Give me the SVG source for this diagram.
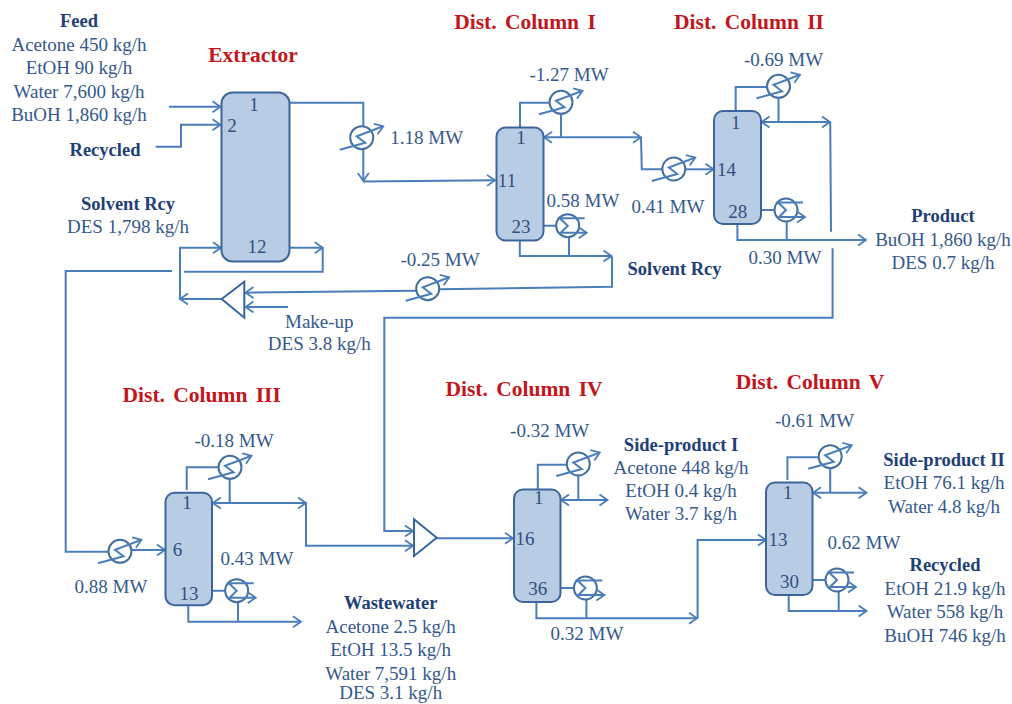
<svg xmlns="http://www.w3.org/2000/svg" width="1012" height="704" viewBox="0 0 1012 704">
<style>
text{font-family:"Liberation Serif","Times New Roman",serif;text-anchor:middle}
.t{font-size:19px;fill:#34588c}
.b{font-size:18.5px;font-weight:bold;fill:#1f3f77}
.r{font-size:21.5px;font-weight:bold;fill:#c3161c;word-spacing:3px}
.n{font-size:19px;fill:#2f5080}
.col{fill:#b8cce4;stroke:#3b659b;stroke-width:2}
.c{fill:none;stroke:#4a7ebb;stroke-width:2}
.a{marker-end:url(#ah)}
.d{marker-start:url(#ah);marker-end:url(#ah)}
.mx{fill:#fff;stroke:#37659c;stroke-width:2}
.hx{fill:none;stroke:#44709f;stroke-width:2}
.hl{fill:none;stroke:#4a7ebb;stroke-width:2}
</style>
<defs>
<marker id="ah" markerUnits="userSpaceOnUse" markerWidth="14" markerHeight="14" refX="10" refY="7" orient="auto-start-reverse">
<path d="M2,1.5 L10,7 L2,12.5" fill="none" stroke="#4a7ebb" stroke-width="1.8"/>
</marker>
<g id="cond">
<circle r="11.5" class="hx"/>
<path d="M-22,12 L3.5,5 L-5,-1.5 L21.5,-11.5" class="hl" marker-end="url(#ah)"/>
</g>
<g id="reb">
<circle r="11.5" class="hx"/>
<path d="M17,-7.5 H-8 L0,0 L-7,7 H19" class="hl" marker-end="url(#ah)"/>
</g>
</defs>
<rect width="1012" height="704" fill="#fff"/>
<g id="connectors" class="c">
<path class="a" d="M169,106.7H220.5"/>
<path class="a" d="M155.7,146.7H181V124.7H220.5"/>
<path d="M290,102.7H363.3V126"/>
<path class="a" d="M363.3,149V181"/>
<path class="a" d="M363.3,181.5L495,180.3"/>
<path class="a" d="M290,247.7H322.7"/>
<path d="M322.7,247.7V271.7H184"/>
<path d="M172,271H65.7V551.7H108"/>
<path class="a" d="M131.7,550H165"/>
<path class="a" d="M221.7,299H180"/>
<path class="a" d="M180,299V247.7H221"/>
<path class="a" d="M416,290.7L245.5,292.7"/>
<path class="a" d="M288,307H245.5"/>
<path d="M440,289.3L612,286.7V256.7"/>
<path class="a" d="M519.8,240V256H611.5"/>
<path d="M543.6,225.7H556.5M569,237V256"/>
<path d="M520,127V102.7H549.7M561,114V137.3"/>
<path class="d" d="M544,137.3H641"/>
<path d="M641,137.3L641.8,169.3H662"/>
<path class="a" d="M686,169.3H713.5"/>
<path d="M735.7,110V87H767M778.5,97.7V122"/>
<path class="d" d="M761.5,122H830"/>
<path d="M830.2,122L831,231.7"/>
<path class="a" d="M832.6,248.3V317.7H384.3V531H413"/>
<path d="M761,210H774.5M786.7,221.7V240"/>
<path class="a" d="M737.4,224V240H866"/>
<path d="M186.7,490V467.3H218.3M229.7,479V503"/>
<path class="d" d="M212.8,503H306"/>
<path class="a" d="M306,503V545.7H413"/>
<path class="a" d="M436.7,538.3H513"/>
<path d="M212.3,590.7H225M238,602.7V621.7"/>
<path class="a" d="M188.3,605V621.7H301"/>
<path d="M537.8,489V464.7H566.7M578.3,476V500"/>
<path class="d" d="M561,500H607.5"/>
<path d="M560.6,588H573.5M586.4,600V618.3"/>
<path class="a" d="M536.4,601.7V618.3H697"/>
<path class="a" d="M697.6,618.3V540H766"/>
<path d="M787.4,480V457.3H819M830.2,468V492.7"/>
<path class="d" d="M813,492.7H866.6"/>
<path d="M812.5,580H825.8M838.7,591.7V611"/>
<path class="a" d="M788.7,595V611H866.6"/>
</g>
<g id="extractor"><rect class="col" x="221.5" y="92.5" width="68" height="169" rx="11"/><text class="n" x="254" y="111">1</text><text class="n" x="232" y="132">2</text><text class="n" x="257" y="253">12</text></g>
<g id="column-1"><rect class="col" x="496.5" y="127.5" width="47" height="113" rx="9"/><text class="n" x="521" y="144">1</text><text class="n" x="507" y="186.7">11</text><text class="n" x="521" y="232.7">23</text></g>
<g id="column-2"><rect class="col" x="714" y="111" width="47" height="113" rx="9"/><text class="n" x="735.7" y="129">1</text><text class="n" x="726.5" y="175.7">14</text><text class="n" x="737.7" y="218">28</text></g>
<g id="column-3"><rect class="col" x="165.5" y="492.7" width="46.5" height="112.5" rx="9"/><text class="n" x="187" y="509">1</text><text class="n" x="177.5" y="556">6</text><text class="n" x="189" y="599.7">13</text></g>
<g id="column-4"><rect class="col" x="514" y="489.5" width="46.5" height="112.5" rx="9"/><text class="n" x="538.8" y="504">1</text><text class="n" x="525" y="544.7">16</text><text class="n" x="537.8" y="595">36</text></g>
<g id="column-5"><rect class="col" x="766" y="482.5" width="46.5" height="112.5" rx="9"/><text class="n" x="787.7" y="499">1</text><text class="n" x="778" y="546.3">13</text><text class="n" x="789.4" y="588.3">30</text></g>
<g id="mixer-1"><polygon class="mx" points="221.7,299 244.3,281.7 244.3,317.7"/></g>
<g id="mixer-2"><polygon class="mx" points="414,519.3 436.7,537.7 414,556"/></g>
<g id="hx-extractor"><use href="#cond" x="361.7" y="137.7"/><text class="t" x="426.7" y="143.7">1.18 MW</text></g>
<g id="hx-solvent"><use href="#cond" x="427.7" y="288.7"/><text class="t" x="440" y="265.7">-0.25 MW</text></g>
<g id="hx-c1-cond"><use href="#cond" x="561" y="102.3"/><text class="t" x="569" y="81.3">-1.27 MW</text></g>
<g id="hx-c1-reb"><use href="#reb" x="567.7" y="225.7"/><text class="t" x="583" y="206.7">0.58 MW</text></g>
<g id="hx-c2-feed"><use href="#cond" x="673.8" y="169"/><text class="t" x="668" y="213.3">0.41 MW</text></g>
<g id="hx-c2-cond"><use href="#cond" x="778.5" y="86.3"/><text class="t" x="783.6" y="65.7">-0.69 MW</text></g>
<g id="hx-c2-reb"><use href="#reb" x="786" y="210"/><text class="t" x="785" y="264.3">0.30 MW</text></g>
<g id="hx-c3-feed"><use href="#cond" x="120" y="551.3"/><text class="t" x="111" y="593.3">0.88 MW</text></g>
<g id="hx-c3-cond"><use href="#cond" x="230" y="467.3"/><text class="t" x="234" y="446.7">-0.18 MW</text></g>
<g id="hx-c3-reb"><use href="#reb" x="236.7" y="590.7"/><text class="t" x="257" y="564.7">0.43 MW</text></g>
<g id="hx-c4-cond"><use href="#cond" x="578.3" y="464"/><text class="t" x="549.7" y="437.3">-0.32 MW</text></g>
<g id="hx-c4-reb"><use href="#reb" x="585.4" y="588"/><text class="t" x="587" y="640">0.32 MW</text></g>
<g id="hx-c5-cond"><use href="#cond" x="830.2" y="456.7"/><text class="t" x="814.6" y="426.7">-0.61 MW</text></g>
<g id="hx-c5-reb"><use href="#reb" x="837" y="580"/><text class="t" x="864" y="548.7">0.62 MW</text></g>
<g id="titles">
<text class="r" x="253" y="62">Extractor</text>
<text class="r" x="525" y="29">Dist. Column I</text>
<text class="r" x="749" y="29">Dist. Column II</text>
<text class="r" x="201.7" y="402.3">Dist. Column III</text>
<text class="r" x="524" y="396">Dist. Column IV</text>
<text class="r" x="810" y="389">Dist. Column V</text>
</g>
<g id="feed"><text class="b" x="79" y="27">Feed</text><text class="t" x="79" y="51">Acetone 450 kg/h</text><text class="t" x="79" y="74">EtOH 90 kg/h</text><text class="t" x="79" y="97.7">Water 7,600 kg/h</text><text class="t" x="79" y="121">BuOH 1,860 kg/h</text></g>
<g id="recycled-in"><text class="b" x="105" y="155.5">Recycled</text></g>
<g id="solvent-rcy-1"><text class="b" x="128" y="209.5">Solvent Rcy</text><text class="t" x="128" y="232.7">DES 1,798 kg/h</text></g>
<g id="solvent-rcy-2"><text class="b" x="674.5" y="275">Solvent Rcy</text></g>
<g id="make-up"><text class="t" x="319.3" y="328">Make-up</text><text class="t" x="319.3" y="350">DES 3.8 kg/h</text></g>
<g id="product"><text class="b" x="943" y="222.3">Product</text><text class="t" x="943" y="246">BuOH 1,860 kg/h</text><text class="t" x="943" y="269.3">DES 0.7 kg/h</text></g>
<g id="wastewater"><text class="b" x="390.7" y="609.3">Wastewater</text><text class="t" x="390.7" y="633">Acetone 2.5 kg/h</text><text class="t" x="390.7" y="656.3">EtOH 13.5 kg/h</text><text class="t" x="390.7" y="679.7">Water 7,591 kg/h</text><text class="t" x="390.7" y="699">DES 3.1 kg/h</text></g>
<g id="side-product-1"><text class="b" x="681" y="450.7">Side-product I</text><text class="t" x="681" y="474">Acetone 448 kg/h</text><text class="t" x="681" y="497.3">EtOH 0.4 kg/h</text><text class="t" x="681" y="520.3">Water 3.7 kg/h</text></g>
<g id="side-product-2"><text class="b" x="944" y="466.3">Side-product II</text><text class="t" x="944" y="489.3">EtOH 76.1 kg/h</text><text class="t" x="944" y="513">Water 4.8 kg/h</text></g>
<g id="recycled-out"><text class="b" x="945" y="571.3">Recycled</text><text class="t" x="945" y="595">EtOH 21.9 kg/h</text><text class="t" x="945" y="618.3">Water 558 kg/h</text><text class="t" x="945" y="641.7">BuOH 746 kg/h</text></g>
</svg>
